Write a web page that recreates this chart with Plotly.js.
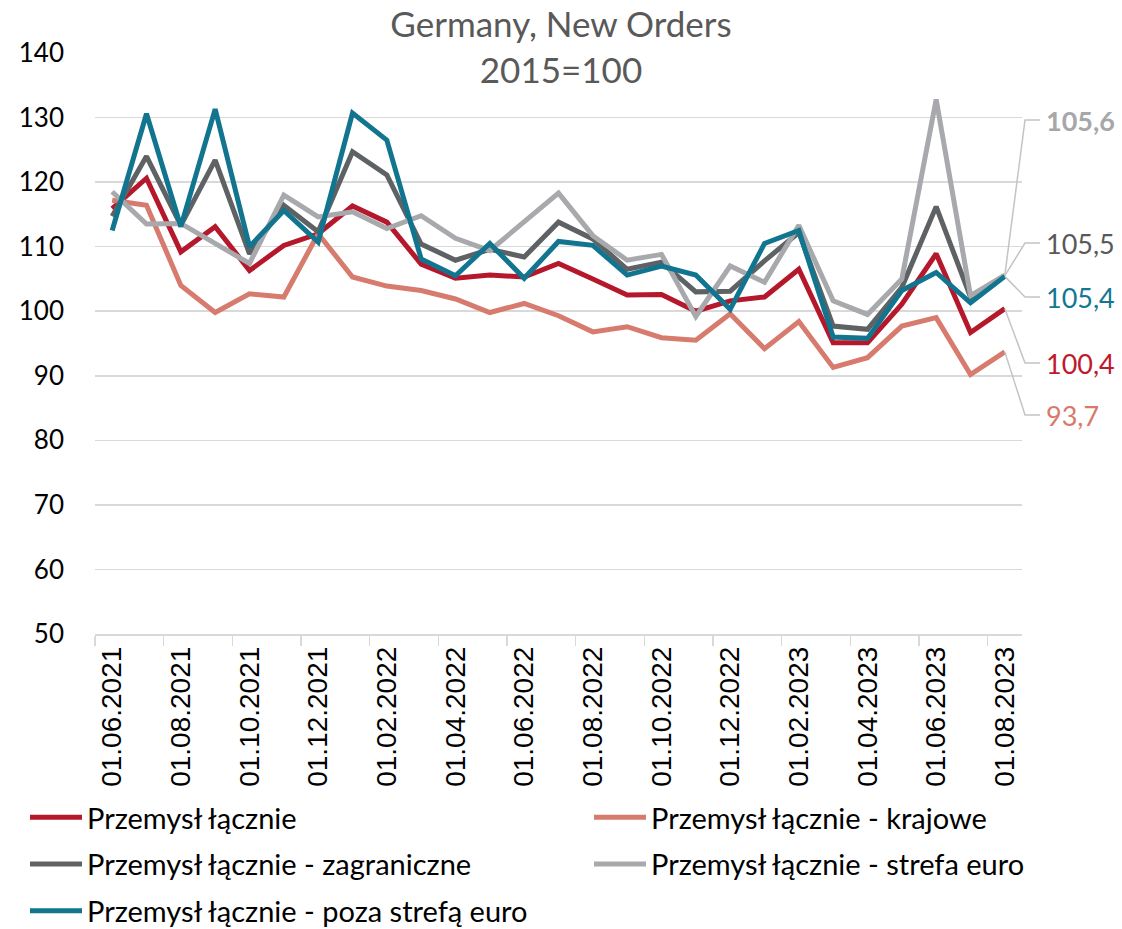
<!DOCTYPE html>
<html>
<head>
<meta charset="utf-8">
<script src="https://cdn.plot.ly/plotly-3.0.1.min.js"></script>
<style>html,body{margin:0;padding:0;background:#fff;}#chart{width:1122px;height:929px;}</style>
</head>
<body>
<div id="chart"></div>
<script>
// ---- data ----
const categories = ['01.06.2021','01.07.2021','01.08.2021','01.09.2021','01.10.2021','01.11.2021','01.12.2021',
  '01.01.2022','01.02.2022','01.03.2022','01.04.2022','01.05.2022','01.06.2022','01.07.2022','01.08.2022',
  '01.09.2022','01.10.2022','01.11.2022','01.12.2022','01.01.2023','01.02.2023','01.03.2023','01.04.2023',
  '01.05.2023','01.06.2023','01.07.2023','01.08.2023'];
const seriesNames = ['Przemysł łącznie','Przemysł łącznie - krajowe','Przemysł łącznie - zagraniczne',
  'Przemysł łącznie - strefa euro','Przemysł łącznie - poza strefą euro'];
const total     = [115.9,120.6,109.2,113.1,106.3,110.2,112.0,116.3,113.8,107.3,105.1,105.6,105.3,107.4,105.0,102.5,102.6,100.0,101.6,102.2,106.5,95.1,95.1,101.1,108.9,96.7,100.4];
const domestic  = [117.2,116.4,104.0,99.8,102.7,102.2,112.0,105.3,103.9,103.2,101.9,99.8,101.2,99.3,96.8,97.6,95.9,95.5,99.6,94.2,98.4,91.3,92.8,97.7,99.0,90.2,93.7];
const foreign   = [114.7,124.0,113.3,123.4,108.9,116.4,112.3,124.7,121.1,110.4,107.9,109.6,108.4,113.8,111.2,106.5,107.6,103.0,103.1,107.8,112.2,97.7,97.2,103.7,116.2,102.2,105.5];
const euroArea  = [118.5,113.5,113.6,110.5,107.4,118.0,114.6,115.4,112.8,114.8,111.3,109.4,113.8,118.3,111.7,107.9,108.8,99.2,107.0,104.5,113.3,101.6,99.5,105.0,132.8,102.4,105.6];
const nonEuro   = [112.5,130.6,113.1,131.3,110.0,115.6,110.7,130.7,126.5,108.1,105.5,110.5,105.1,110.8,110.2,105.6,107.0,105.6,100.3,110.5,112.5,96.0,95.8,103.2,106.0,101.3,105.4];
const yTicks = [50,60,70,80,90,100,110,120,130,140];

// ---- styles ----
const colors = ['#B5172B','#D67B6E','#5E6264','#A7A9AC','#12758F'];
const labelColors = ['#C0182D','#D9796B','#595959','#A5A7AA','#137793'];
const labelBold = [false,false,false,true,false];
const labelYpx = [363,415,243,120,297]; // pixel positions of end labels
const legendOf = ['legend','legend2','legend','legend2','legend'];
const allSeries = [total, domestic, foreign, euroArea, nonEuro];

const W = 1122, H = 929;
const plotTop = 53, plotBottom = 634, plotLeft = 95, plotRight = 1022;
const yMin = 50, yMax = 140;
const traces = allSeries.map((s,i)=>({
  type:'scatter', mode:'lines', x:categories, y:s, name:seriesNames[i],
  legend:legendOf[i], legendgroup:'g'+i,
  line:{color:colors[i], width:5, shape:'linear'}, hoverinfo:'x+y+name'
}));

const n = categories.length;
const pxToY = p => yMax - (p - plotTop) / (plotBottom - plotTop) * (yMax - yMin);
const shapes = [], annotations = [];
allSeries.forEach((s,i)=>{
  const last = s[s.length-1];
  const xp = (n - 1 + 0.5) / n;
  const yp = (last - yMin) / (yMax - yMin);
  const ly = pxToY(labelYpx[i]);
  const lyp = (ly - yMin) / (yMax - yMin);
  const elbow = (1025 - plotLeft) / (plotRight - plotLeft);
  const endx = (1040 - plotLeft) / (plotRight - plotLeft);
  shapes.push({type:'path', xref:'paper', yref:'paper',
    path:`M${xp},${yp} L${elbow},${lyp} L${endx},${lyp}`,
    line:{color:'#C4C4C4', width:1.5}});
  const txt = last.toFixed(1).replace('.', ',');
  annotations.push({xref:'paper', yref:'y', x:(1044 - plotLeft)/(plotRight-plotLeft), y:ly,
    xanchor:'left', yanchor:'middle', showarrow:false,
    text: labelBold[i] ? '<b>'+txt+'</b>' : txt,
    font:{family:'Lato, sans-serif', size:27, color:labelColors[i]}});
});

const legendFont = {family:'Lato, sans-serif', size:29, color:'#000'};
const legendBase = {orientation:'v', xref:'container', yref:'container', xanchor:'left', yanchor:'top',
  itemwidth:52, tracegroupgap:6, font:legendFont, bgcolor:'rgba(0,0,0,0)', borderwidth:0};

const layout = {
  width:W, height:H,
  margin:{l:plotLeft, r:W-plotRight, t:plotTop, b:H-plotBottom, pad:0, autoexpand:false},
  paper_bgcolor:'#fff', plot_bgcolor:'#fff',
  title:{text:'Germany, New Orders<br>2015=100', x:0.5, xref:'container', xanchor:'center',
    y:1-37/H, yref:'container', yanchor:'middle',
    font:{family:'Lato, sans-serif', size:35, color:'#595959'}},
  showlegend:true,
  legend:Object.assign({}, legendBase, {x:25/W, y:1-792/H}),
  legend2:Object.assign({}, legendBase, {x:589/W, y:1-792/H}),
  xaxis:{type:'category', range:[-0.5, n-0.5], tickmode:'linear', tick0:0, dtick:2,
    tickson:'boundaries', ticks:'outside', ticklen:10, tickcolor:'#D9D9D9', tickwidth:1.5,
    showline:true, linecolor:'#D9D9D9', linewidth:1.5, showgrid:false, zeroline:false,
    automargin:false,
    tickangle:-90, tickfont:{family:'Liberation Sans, Arial, sans-serif', size:28, color:'#000'}},
  yaxis:{range:[yMin,yMax], tickmode:'array', tickvals:yTicks, ticktext:yTicks.map(String),
    showgrid:true, gridcolor:'#D9D9D9', gridwidth:1.5, zeroline:false, showline:false,
    ticks:'', ticklabelstandoff:30, automargin:false,
    tickfont:{family:'Lato, sans-serif', size:26, color:'#000'}},
  shapes:shapes, annotations:annotations
};
Plotly.newPlot('chart', traces, layout, {displayModeBar:false, staticPlot:true});
</script>
</body>
</html>
